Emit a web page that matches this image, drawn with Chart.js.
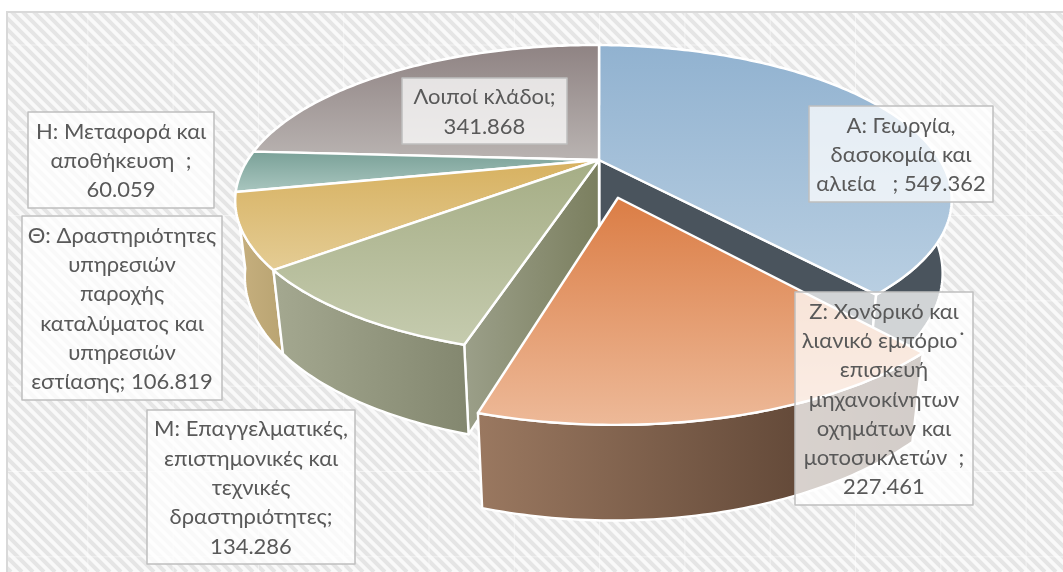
<!DOCTYPE html>
<html>
<head>
<meta charset="utf-8">
<style>body { margin: 0; background: #fff; } canvas { display: block; }</style>
</head>
<body>
<canvas id="myChart" width="1063" height="572"></canvas>
<script src="https://cdn.jsdelivr.net/npm/chart.js@4"></script>
<script>
var categories = ['Α: Γεωργία, δασοκομία και αλιεία', 'Ζ: Χονδρικό και λιανικό εμπόριο˙ επισκευή μηχανοκίνητων οχημάτων και μοτοσυκλετών', 'Μ: Επαγγελματικές, επιστημονικές και τεχνικές δραστηριότητες', 'Θ: Δραστηριότητες υπηρεσιών παροχής καταλύματος και υπηρεσιών εστίασης', 'Η: Μεταφορά και αποθήκευση', 'Λοιποί κλάδοι'];
var values = [549362, 227461, 134286, 106819, 60059, 341868];
var labelLines = [
    ['Α: Γεωργία,', 'δασοκομία και', 'αλιεία   ; 549.362'],
    ['Ζ: Χονδρικό και', 'λιανικό εμπόριο˙', 'επισκευή', 'μηχανοκίνητων', 'οχημάτων και', 'μοτοσυκλετών  ;', '227.461'],
    ['Μ: Επαγγελματικές,', 'επιστημονικές και', 'τεχνικές', 'δραστηριότητες;', '134.286'],
    ['Θ: Δραστηριότητες', 'υπηρεσιών', 'παροχής', 'καταλύματος και', 'υπηρεσιών', 'εστίασης; 106.819'],
    ['Η: Μεταφορά και', 'αποθήκευση  ;', '60.059'],
    ['Λοιποί κλάδοι;', '341.868']
];
var explode = [0, 0.25, 0, 0, 0, 0];

// label boxes: left, top, right, bottom
var labelBoxes = [[809, 106, 993, 202], [795, 292, 973, 505], [147, 410, 355, 564], [22, 216, 222, 400], [28, 112, 214, 208], [402, 78, 567, 144]];
var topColors = [['#91b2d0', '#b9cfe2'], ['#db7d45', '#edb998'], ['#a5ad85', '#c5cbae'], ['#d7b160', '#e4cc94'], ['#7aa198', '#a9c6bf'], ['#8f8383', '#b9b3b1']];
var wallColors = [['#4a545d', '#4a545d'], ['#9a7860', '#4f382a'], ['#a4a890', '#83876f'], ['#c7b07f', '#b9a472'], ['#7a9a92', '#7a9a92'], ['#8f8383', '#8f8383']];
var sideColors = [['#4a545d', '#4a545d'], ['#9a7860', '#9a7860'], ['#9b9f89', '#7b7f5f'], ['#b9a472', '#b9a472'], ['#7a9a92', '#7a9a92'], ['#8f8383', '#8f8383']];
var paintOrder = [0, 5, 4, 3, 2, 1];

// perspective of the pie disc
var view = { cx: 599, cy: 160, a: 346, b: 144.6, k: 0.258, q: 0.015, depth: 74, shrink: 0.025 };

function project(u, v, low) {
    var w = 1 - view.k * v + view.q * u + (low ? view.shrink : 0);
    return { x: view.cx + view.a * u / w, y: view.cy + (view.b * v + (low ? view.depth : 0)) / w };
}

function rimPoints(start, end, off, low) {
    var pts = [];
    var n = Math.max(2, Math.ceil((end - start) / 0.015));
    for (var i = 0; i <= n; i++) {
        var t = start + (end - start) * i / n;
        pts.push(project(Math.sin(t) + off.u, -Math.cos(t) + off.v, low));
    }
    return pts;
}

function fillShape(ctx, pts, paint) {
    ctx.beginPath();
    pts.forEach(function (p, i) { if (i) ctx.lineTo(p.x, p.y); else ctx.moveTo(p.x, p.y); });
    ctx.closePath();
    var xs = pts.map(function (p) { return p.x; });
    var ys = pts.map(function (p) { return p.y; });
    var g = paint.vertical
        ? ctx.createLinearGradient(0, Math.min.apply(null, ys), 0, Math.max.apply(null, ys))
        : ctx.createLinearGradient(Math.min.apply(null, xs), 0, Math.max.apply(null, xs), 0);
    g.addColorStop(0, paint.colors[0]);
    g.addColorStop(1, paint.colors[1]);
    ctx.fillStyle = g;
    ctx.fill();
    ctx.strokeStyle = '#fff';
    ctx.lineWidth = 2.4;
    ctx.lineJoin = 'round';
    ctx.stroke();
}

function drawBackground(ctx, w, h) {
    ctx.save();
    ctx.fillStyle = '#fff';
    ctx.fillRect(0, 0, w, h);
    ctx.beginPath();
    ctx.rect(7, 12, w, h);
    ctx.clip();
    ctx.fillStyle = '#f9f9f9';
    ctx.fillRect(7, 12, w, h);
    ctx.strokeStyle = '#e5e5e5';
    ctx.lineWidth = 4;
    ctx.beginPath();
    for (var d = -h; d < w; d += 11) {
        ctx.moveTo(d, 0);
        ctx.lineTo(d + h, h);
    }
    ctx.stroke();
    // faint seams of the repeated texture
    ctx.strokeStyle = 'rgba(255,255,255,0.5)';
    ctx.lineWidth = 1;
    ctx.beginPath();
    for (var sx = 2.5; sx < w; sx += 85.3) {
        ctx.moveTo(sx, 0);
        ctx.lineTo(sx, h);
    }
    for (var sy = 45; sy < h; sy += 85.3) {
        ctx.moveTo(0, sy);
        ctx.lineTo(w, sy);
    }
    ctx.stroke();
    ctx.restore();
    ctx.strokeStyle = '#d9d9d9';
    ctx.lineWidth = 2;
    ctx.strokeRect(7, 12, w + 10, h + 10);
}

function drawLabels(ctx) {
    ctx.font = '22px Lato, "Noto Sans"';
    ctx.textAlign = 'center';
    ctx.textBaseline = 'middle';
    labelBoxes.forEach(function (b, i) {
        ctx.fillStyle = 'rgba(255,255,255,0.75)';
        ctx.fillRect(b[0], b[1], b[2] - b[0], b[3] - b[1]);
        ctx.strokeStyle = '#bfbfbf';
        ctx.lineWidth = 1.5;
        ctx.strokeRect(b[0], b[1], b[2] - b[0], b[3] - b[1]);
        var lines = labelLines[i];
        var y = (b[1] + b[3]) / 2 - (lines.length - 1) * 29.3 / 2 + 1;
        ctx.fillStyle = '#595959';
        lines.forEach(function (t, j) { ctx.fillText(t, (b[0] + b[2]) / 2, y + j * 29.3); });
    });
}

var pie3d = {
    id: 'pie3d',
    beforeDatasetsDraw: function (chart) {
        var ctx = chart.ctx;
        var arcs = chart.getDatasetMeta(0).data;
        drawBackground(ctx, chart.width, chart.height);
        paintOrder.forEach(function (i) {
            // chart.js angles start at -PI/2, here 0 is the top of the disc
            var start = arcs[i].startAngle + Math.PI / 2;
            var end = arcs[i].endAngle + Math.PI / 2;
            var mid = (start + end) / 2;
            var off = { u: explode[i] * Math.sin(mid), v: -explode[i] * Math.cos(mid) };
            var centerTop = project(off.u, off.v, false);
            var centerLow = project(off.u, off.v, true);
            var rimTop = rimPoints(start, end, off, false);
            var rimLow = rimPoints(start, end, off, true);
            // cut faces only when they look towards the viewer
            if (-Math.cos(start - Math.PI / 2) > 0) {
                fillShape(ctx, [centerTop, rimTop[0], rimLow[0], centerLow], { colors: sideColors[i] });
            }
            if (-Math.cos(end + Math.PI / 2) > 0) {
                fillShape(ctx, [centerTop, rimTop[rimTop.length - 1], rimLow[rimLow.length - 1], centerLow], { colors: sideColors[i] });
            }
            fillShape(ctx, rimTop.concat(rimLow.slice().reverse()), { colors: wallColors[i] });
            fillShape(ctx, [centerTop].concat(rimTop), { colors: topColors[i], vertical: true });
        });
        drawLabels(ctx);
        return false;
    }
};

var ctx = document.getElementById('myChart').getContext('2d');
var chart = new Chart(ctx, {
    type: 'pie',
    data: {
        labels: categories,
        datasets: [{ data: values }]
    },
    options: {
        responsive: false,
        animation: false,
        events: [],
        plugins: { legend: { display: false }, tooltip: { enabled: false } }
    },
    plugins: [pie3d]
});
</script>
</body>
</html>
